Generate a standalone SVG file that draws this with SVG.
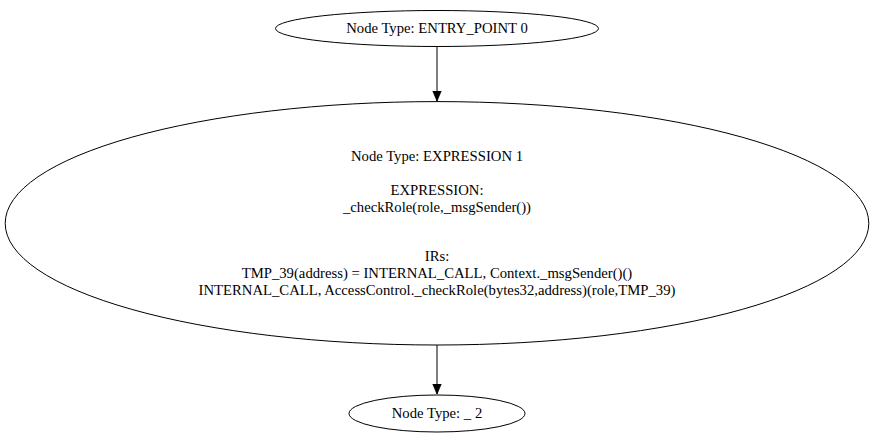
<svg xmlns="http://www.w3.org/2000/svg" width="874" height="448" viewBox="0 0 874 448">
<style>
.n{fill:#fff;stroke:#000;stroke-width:1}
.t{font-family:'Liberation Serif','Times New Roman',Times,serif;font-size:14.7px;fill:#000;text-anchor:middle}
.e{stroke:#000;stroke-width:1;fill:none}
</style>
<defs>
<marker id="a" markerWidth="10" markerHeight="12" refX="12" refY="5" orient="auto" markerUnits="userSpaceOnUse" viewBox="0 0 12 10">
<polygon points="0,0 12,5 0,10" fill="#000" stroke="#000"/>
</marker>
</defs>
<rect width="874" height="448" fill="#fff"/>
<g id="connectors">
<path class="e" d="M437,46.5 L437,101" marker-end="url(#a)"/>
<path class="e" d="M437,345 L437,394" marker-end="url(#a)"/>
</g>
<g id="node0">
<ellipse class="n" cx="437" cy="28.5" rx="161.5" ry="18"/>
<text class="t" x="437" y="33">Node Type: ENTRY_POINT 0</text>
</g>
<g id="node1">
<ellipse class="n" cx="437" cy="223.3" rx="431.8" ry="121.7"/>
<text class="t" x="437" y="161">Node Type: EXPRESSION 1</text>
<text class="t" x="437" y="195">EXPRESSION:</text>
<text class="t" x="437" y="212">_checkRole(role,_msgSender())</text>
<text class="t" x="437" y="261">IRs:</text>
<text class="t" x="437" y="278">TMP_39(address) = INTERNAL_CALL, Context._msgSender()()</text>
<text class="t" x="437" y="295">INTERNAL_CALL, AccessControl._checkRole(bytes32,address)(role,TMP_39)</text>
</g>
<g id="node2">
<ellipse class="n" cx="437" cy="413.5" rx="88" ry="18.5"/>
<text class="t" x="437" y="418">Node Type: _ 2</text>
</g>
</svg>
